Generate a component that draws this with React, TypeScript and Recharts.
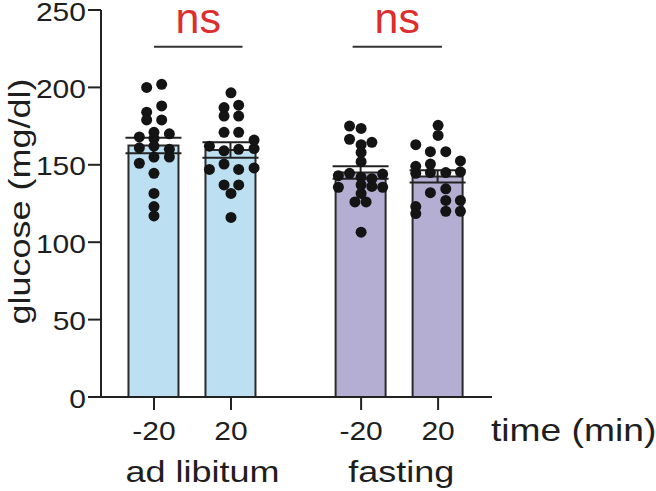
import React from 'react';
import { ComposedChart, Bar, Cell, ErrorBar, Scatter, XAxis, YAxis, ReferenceLine } from 'recharts';

// bar positions on the x axis (time -20 / 20 within each feeding group)
const barPositions = [0, 1, 2.69, 3.69];
const timeLabels = ['-20', '20', '-20', '20'];
const barMeans = [162.5, 159.5, 145, 142.5];
const barSems = [5, 5, 4, 4];
const barColors = ['#bcdff1', '#bcdff1', '#b4aed2', '#b4aed2'];

const groupNames = ['ad libitum', 'fasting'];
const groupCenters = [0.63, 3.21];

const yTicks = [0, 50, 100, 150, 200, 250];

// individual animals, glucose values and horizontal jitter (x units)
const adLibPre = [200, 202, 188, 184, 179, 179, 171, 168, 170, 167, 161, 162, 160, 155, 155, 151, 144.5, 131.5, 123, 117];
const adLibPreJitter = [-0.095, 0.1, 0.1, -0.095, -0.095, 0.1, 0, -0.19, 0.2, 0, -0.19, 0, 0.2, 0, 0.2, -0.19, 0, 0, 0, 0];
const adLibPost = [196.5, 187, 188.5, 181.5, 181.5, 171, 171, 166, 162, 160.5, 159, 160, 150.5, 147, 147, 148, 137, 137, 131.5, 116];
const adLibPostJitter = [0, -0.09, 0.1, -0.09, 0.1, -0.09, 0.1, 0.3, -0.28, 0.3, -0.09, 0.1, -0.09, 0.1, -0.28, 0.3, -0.09, 0.1, 0, 0];
const fastPre = [175, 173.5, 166.5, 164.5, 163, 158, 152, 143, 144.5, 144, 142, 141, 135.5, 137, 136, 135.5, 131.5, 126, 126, 106.5];
const fastPreJitter = [-0.15, 0, -0.15, 0.14, 0, 0, 0, -0.295, -0.15, 0.28, 0, 0.14, -0.295, 0, 0.14, 0.28, 0, -0.08, 0.065, 0];
const fastPost = [175.5, 169, 163, 158.5, 158.5, 152.5, 149, 150.5, 144.5, 145, 145, 145.5, 132, 134.5, 123, 118.5, 127, 127, 120, 120];
const fastPostJitter = [0, 0, -0.29, -0.1, 0.1, 0.29, -0.29, -0.1, -0.29, -0.1, 0.1, 0.29, -0.1, 0.1, -0.29, -0.29, 0.1, 0.29, 0.1, 0.29];

// comparisons drawn above the bars
const comparisons = [
  { from: 0, to: 1.15, label: 'ns' },
  { from: 2.58, to: 3.74, label: 'ns' },
];
const bracketY = 226.3;

const xDomain = [-0.688, 4.39];
const TEXT = '#1e1e1e';
const WIDE = 1.2; // the figure's font is wider than Arial

const barData = barPositions.map((x, i) => ({ x, mean: barMeans[i], sem: barSems[i] }));

const groups = [
  [adLibPre, adLibPreJitter],
  [adLibPost, adLibPostJitter],
  [fastPre, fastPreJitter],
  [fastPost, fastPostJitter],
];
const dots = groups.flatMap(([vals, jit], g) =>
  vals.map((y, i) => ({ x: barPositions[g] + jit[i], y }))
);

const YTick = ({ x, y, payload }: any) => (
  <text transform={`translate(${x},${y}) scale(${WIDE},1)`} y={10.5} textAnchor="end" fontSize={25} fill={TEXT}>
    {payload.value}
  </text>
);

const TimeTick = ({ x, y, index }: any) => (
  <text transform={`translate(${x},${y}) scale(${WIDE},1)`} y={28} textAnchor="middle" fontSize={25} fill={TEXT}>
    {timeLabels[index]}
  </text>
);

const GroupTick = ({ x, y, index }: any) => (
  <text transform={`translate(${x},${y}) scale(${WIDE},1)`} y={38} textAnchor="middle" fontSize={30} fill={TEXT}>
    {groupNames[index]}
  </text>
);

const TimeLabel = ({ viewBox }: any) => (
  <text
    transform={`translate(${viewBox.x + viewBox.width - 1},${viewBox.y + 44}) scale(${WIDE},1)`}
    textAnchor="start"
    fontSize={31}
    fill={TEXT}
  >
    time (min)
  </text>
);

const GlucoseLabel = ({ viewBox }: any) => (
  <text
    transform={`translate(${viewBox.x + 29.5},${viewBox.y + viewBox.height / 2 - 2}) rotate(-90) scale(${WIDE},1)`}
    textAnchor="middle"
    fontSize={30}
    fill={TEXT}
  >
    glucose (mg/dl)
  </text>
);

const Dot = (props: any) => <circle cx={props.cx} cy={props.cy} r={5.5} fill="#141414" />;

const App = () => {
  return (
    <div
      style={{
        position: 'absolute',
        left: 0,
        top: 0,
        width: 656,
        height: 491,
        background: '#fff',
        fontFamily: '"Liberation Sans", Arial, sans-serif',
      }}
    >
      <ComposedChart width={656} height={491} data={barData} margin={{ top: 10, right: 164, bottom: 0, left: 0 }}>
        <XAxis
          dataKey="x"
          type="number"
          domain={xDomain}
          allowDataOverflow
          ticks={barPositions}
          interval={0}
          height={45}
          tickSize={13}
          tick={<TimeTick />}
          axisLine={{ stroke: '#222', strokeWidth: 2 }}
          tickLine={{ stroke: '#222', strokeWidth: 2 }}
          label={<TimeLabel />}
        />
        <XAxis
          xAxisId="grp"
          dataKey="x"
          type="number"
          domain={xDomain}
          allowDataOverflow
          ticks={groupCenters}
          interval={0}
          height={49}
          tickSize={0}
          tick={<GroupTick />}
          axisLine={false}
          tickLine={false}
        />
        <YAxis
          type="number"
          domain={[0, 250]}
          ticks={yTicks}
          interval={0}
          width={101}
          tickSize={13}
          tick={<YTick />}
          axisLine={{ stroke: '#222', strokeWidth: 2 }}
          tickLine={{ stroke: '#222', strokeWidth: 2 }}
          label={<GlucoseLabel />}
        />
        <Bar dataKey="mean" barSize={50} stroke="#2a2a2a" strokeWidth={2} isAnimationActive={false}>
          {barData.map((d, i) => (
            <Cell key={i} fill={barColors[i]} />
          ))}
          <ErrorBar dataKey="sem" width={28} stroke="#222" strokeWidth={2} direction="y" />
        </Bar>
        <Scatter xAxisId="grp" data={dots} dataKey="y" shape={<Dot />} isAnimationActive={false} />
        {comparisons.map((c, i) => (
          <ReferenceLine
            key={i}
            segment={[{ x: c.from, y: bracketY }, { x: c.to, y: bracketY }]}
            stroke="#333"
            strokeWidth={2}
            label={{ value: c.label, position: 'top', offset: 14, fill: '#dc2e2e', fontSize: 43 }}
          />
        ))}
      </ComposedChart>
    </div>
  );
};

export default App;
